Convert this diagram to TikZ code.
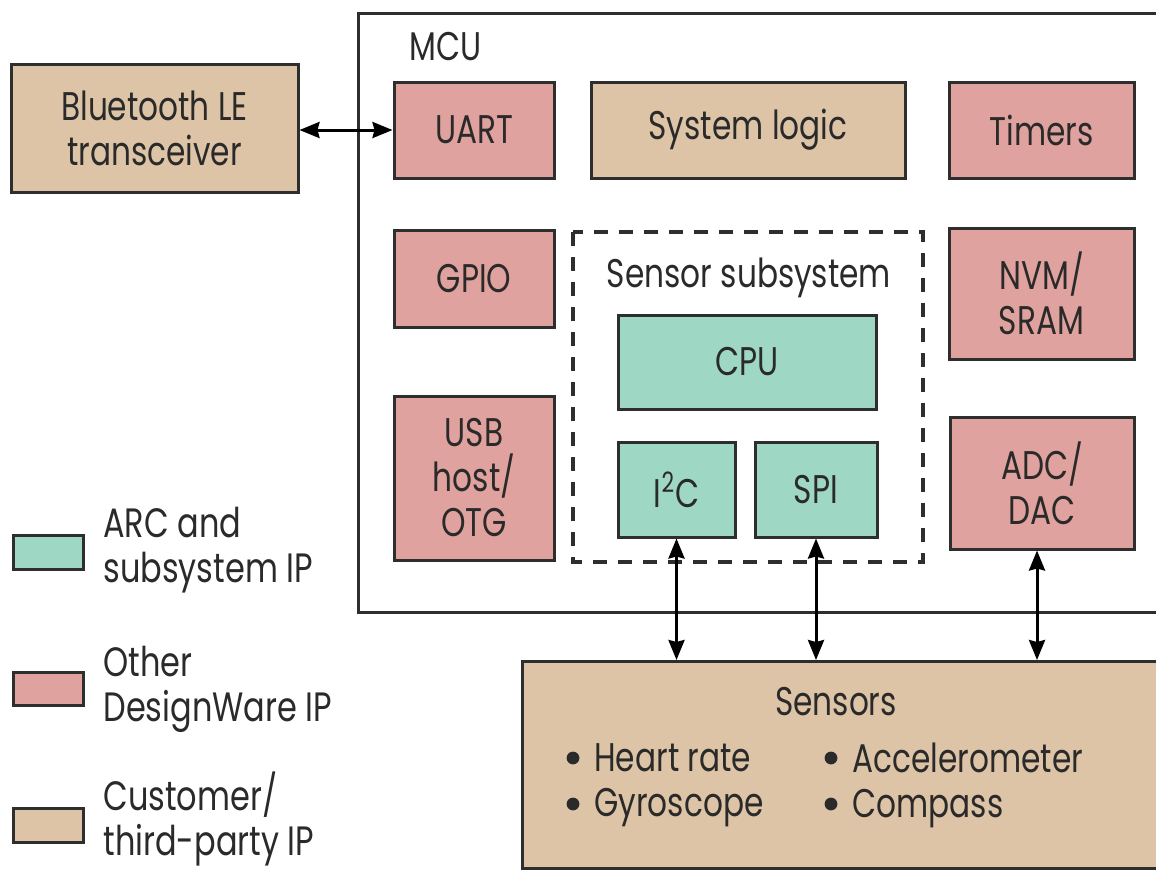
\documentclass[tikz,border=0pt]{standalone}
\usepackage{fontspec}
\setmainfont{Poppins}[FakeStretch=0.78]
\usetikzlibrary{arrows.meta}
\definecolor{arcip}{HTML}{9ED8C4}
\definecolor{dwip}{HTML}{E0A29E}
\definecolor{custip}{HTML}{DEC4A6}
\definecolor{edge}{HTML}{2E2E2E}
\definecolor{ink}{HTML}{2A2A2A}
\tikzset{
  blk/.style={draw=edge, line width=1.5pt, text=ink, align=center, inner sep=0pt},
  arcbox/.style={blk, fill=arcip},
  dwbox/.style={blk, fill=dwip},
  custbox/.style={blk, fill=custip},
  lbl/.style={text=ink, inner sep=0pt},
  listtxt/.style={lbl, align=left},
  dot/.style={fill=ink},
  legtxt/.style={lbl, align=left, font=\fontsize{20.5}{22.5}\selectfont},
  link/.style={draw=black, line width=1.5pt, {Stealth[length=10pt,width=8pt,inset=1pt]}-{Stealth[length=10pt,width=8pt,inset=1pt]}},
}
\begin{document}
\begin{tikzpicture}[x=0.5pt,y=-0.5pt, font=\fontsize{20}{22.5}\selectfont]
\useasboundingbox (0,0) rectangle (1156,869);
\clip (0,0) rectangle (1156,869);

% MCU outline (runs past the right edge)
\draw[edge, line width=1.5pt] (1190,13) -- (358,13) -- (358,612) -- (1190,612);
\node[lbl, anchor=base west] (mcu) at (409,60) {MCU};

% external transceiver
\node[custbox, minimum width=143.5pt, minimum height=64pt] (bt) at (154.5,128) {Bluetooth LE\\transceiver};

% top row
\node[dwbox, minimum width=80pt, minimum height=48pt] (uart) at (474,130) {UART};
\node[custbox, minimum width=157pt, minimum height=48pt] (syslogic) at (748,130) {System logic};
\node[dwbox, minimum width=92.5pt, minimum height=48pt] (timers) at (1041.5,130) {Timers};

% left column
\node[dwbox, minimum width=80pt, minimum height=48.5pt] (gpio) at (474,278.5) {GPIO};
\node[dwbox, minimum width=80pt, minimum height=82pt] (usb) at (474,478) {USB\\host/\\OTG};

% right column
\node[dwbox, minimum width=92.5pt, minimum height=65.5pt] (nvm) at (1041.5,293.5) {NVM/\\SRAM};
\node[dwbox, minimum width=92pt, minimum height=66pt] (adc) at (1042,483) {ADC/\\DAC};

% sensor subsystem
\draw[edge, line width=1.9pt, dash pattern=on 7pt off 5.5pt] (573,232) rectangle (923,562);
\node[lbl, anchor=base] (sstitle) at (749,287) {Sensor subsystem};
\node[arcbox, minimum width=129pt, minimum height=47pt] (cpu) at (747,362) {CPU};
\node[arcbox, minimum width=58.5pt, minimum height=47.5pt] (i2c) at (676.5,489.5) {I\textsuperscript{2}C};
\node[arcbox, minimum width=61pt, minimum height=47.5pt] (spi) at (816,489.5) {SPI};

% sensors block (runs past the right edge)
\node[custbox, anchor=north west, minimum width=334.5pt, minimum height=103.5pt] (sensors) at (521,660) {};
\node[lbl, anchor=base] (senstitle) at (836,715) {Sensors};
\fill[dot] (573,758) circle[radius=3.2pt] (573,804) circle[radius=3.2pt]
           (831,758) circle[radius=3.2pt] (831,804) circle[radius=3.2pt];
\node[listtxt, anchor=west] (listl) at (594,785) {Heart rate\\Gyroscope};
\node[listtxt, anchor=west] (listr) at (852,785) {Accelerometer\\Compass};

% connections
\draw[link] (bt.east |- uart.west) -- (uart.west);
\draw[link] (i2c.south) -- (i2c.south |- sensors.north);
\draw[link] (spi.south) -- (spi.south |- sensors.north);
\draw[link] ([xshift=-2.5pt]adc.south) -- ([xshift=-2.5pt]adc.south |- sensors.north);

% legend
\node[arcbox, minimum width=35pt, minimum height=17pt] (legarc) at (48,552) {};
\node[dwbox, minimum width=35pt, minimum height=16.5pt] (legdw) at (48,688.5) {};
\node[custbox, minimum width=35pt, minimum height=17pt] (legcust) at (48,825) {};
\node[legtxt, anchor=west] (legarctxt) at (103,550) {ARC and\\subsystem IP};
\node[legtxt, anchor=west] (legdwtxt) at (103,689) {Other\\DesignWare IP};
\node[legtxt, anchor=west] (legcusttxt) at (103,819) {Customer/\\third-party IP};
\end{tikzpicture}
\end{document}
